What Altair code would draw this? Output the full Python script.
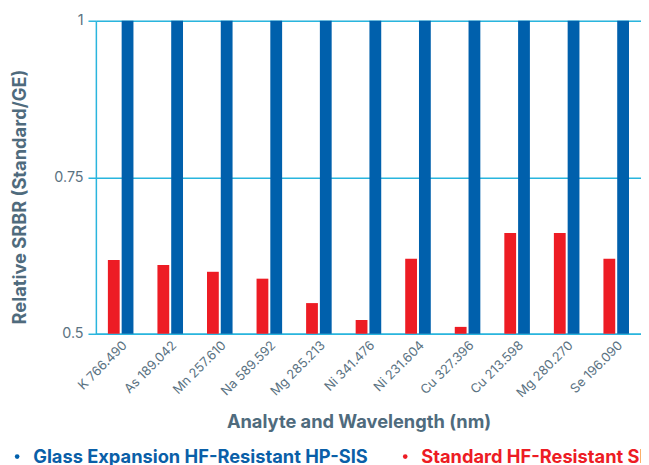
import altair as alt
import pandas as pd

categories = ["K 766.490", "As 189.042", "Mn 257.610", "Na 589.592", "Mg 285.213",
              "Ni 341.476", "Ni 231.604", "Cu 327.396", "Cu 213.598", "Mg 280.270", "Se 196.090"]
ge_values = [1.0] * 11
std_values = [0.618, 0.610, 0.599, 0.588, 0.549, 0.522, 0.620, 0.511, 0.661, 0.661, 0.620]
series = ["Glass Expansion HF-Resistant HP-SIS", "Standard HF-Resistant SIS"]
colors = ["#0060ac", "#ed1c24"]
y_ticks = [0.5, 0.75, 1.0]

rows = []
for c, g, s in zip(categories, ge_values, std_values):
    rows.append({"cat": c, "series": series[0], "value": g})
    rows.append({"cat": c, "series": series[1], "value": s})
df = pd.DataFrame(rows)

FONT = "Inter"
GRID = "#29b5de"
TXT = "#5a7282"
TITLE = "#4f6b7d"

chart = alt.Chart(df).mark_bar().encode(
    x=alt.X("cat:N", sort=categories,
            scale=alt.Scale(paddingInner=0.484, paddingOuter=0.242),
            axis=alt.Axis(title="Analyte and Wavelength (nm)", labelAngle=-45,
                          labelAlign="right", labelBaseline="top",
                          labelFontSize=13, labelColor=TXT, labelFont=FONT,
                          ticks=False, labelPadding=5, domainColor=GRID, domainWidth=1.5,
                          titleFont=FONT, titleFontSize=18.5, titleFontWeight="bold",
                          titleColor=TITLE, titleX=266, titleY=80, titleBaseline="top")),
    xOffset=alt.XOffset("series:N", sort=[series[1], series[0]],
                        scale=alt.Scale(paddingInner=0.1429, paddingOuter=0)),
    y=alt.Y("value:Q", scale=alt.Scale(domain=[0.5, 1.0], zero=False, nice=False),
            axis=alt.Axis(title="Relative SRBR (Standard/GE)", values=y_ticks, format=".2~f",
                          grid=True, gridColor=GRID, gridWidth=1.5,
                          ticks=True, tickSize=8, tickColor=GRID, tickWidth=1.5,
                          domainColor=GRID, domainWidth=1.5,
                          labelFontSize=14.5, labelColor=TXT, labelFont=FONT, labelPadding=5,
                          titleFont=FONT, titleFontSize=18.5, titleFontWeight="bold",
                          titleColor=TITLE, titleX=-67, titleY=178)),
    y2=alt.datum(0.5),
    color=alt.Color("series:N", scale=alt.Scale(domain=series, range=colors),
                    legend=alt.Legend(title=None, orient="none", direction="horizontal",
                                      legendX=-89, legendY=432,
                                      symbolType="circle", symbolSize=22,
                                      labelFont=FONT, labelFontSize=18.5, labelFontWeight="bold",
                                      labelColor={"expr": "datum.value == 'Standard HF-Resistant SIS' ? '#ed1c24' : '#0a5fa8'"},
                                      labelOffset=7, columnPadding=28, labelLimit=0)),
).properties(
    width=552, height=317,
    autosize=alt.AutoSizeParams(type="none"),
    padding={"left": 89, "top": 10, "right": 0, "bottom": 130},
).configure_view(stroke=None).configure(background="white")

chart.save("out.html", embed_options={"renderer": "svg", "actions": False})
